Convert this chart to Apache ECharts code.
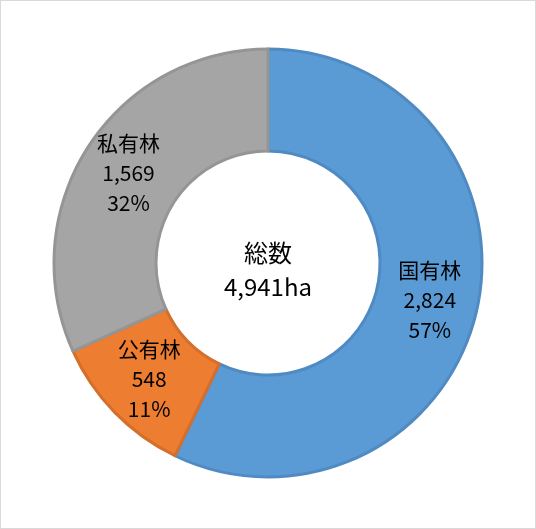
<!DOCTYPE html>
<html>
<head>
<meta charset="utf-8">
<script src="https://cdn.jsdelivr.net/npm/echarts@6/dist/echarts.min.js"></script>
<style>
html,body{margin:0;padding:0;background:#fff;}
#chart{width:536px;height:529px;box-sizing:border-box;border:1px solid #d9d9d9;}
</style>
</head>
<body>
<div id="chart"></div>
<script>
const categories = ['国有林', '公有林', '私有林'];
const values = [2824, 548, 1569];
const fillColors = ['#5B9BD5', '#ED7D31', '#A5A5A5'];
const borderColors = ['#4F8AC2', '#D46F2B', '#959595'];
const centerTitle = '総数';
const totalUnit = 'ha';

const total = values.reduce((a, b) => a + b, 0);
const fmt = n => String(n).replace(/\B(?=(\d{3})+(?!\d))/g, ',');

const chart = echarts.init(document.getElementById('chart'));
chart.setOption({
  animation: false,
  backgroundColor: '#ffffff',
  graphic: [{
    type: 'text',
    x: 267,
    y: 269,
    style: {
      text: centerTitle + '\n' + fmt(total) + totalUnit,
      font: '24px "Noto Sans CJK JP", "Noto Sans", sans-serif',
      fill: '#000',
      align: 'center',
      verticalAlign: 'middle',
      lineHeight: 34
    }
  }],
  series: [{
    type: 'pie',
    center: [267, 262],
    radius: [112, 214],
    startAngle: 90,
    clockwise: true,
    avoidLabelOverlap: false,
    data: categories.map((c, i) => ({
      name: c,
      value: values[i],
      itemStyle: { color: fillColors[i], borderColor: borderColors[i], borderWidth: 3 }
    })),
    label: {
      show: true,
      position: 'inside',
      color: '#000',
      fontSize: 21,
      lineHeight: 30,
      fontFamily: '"Noto Sans CJK JP", "Noto Sans", sans-serif',
      formatter: p => p.name + '\n' + fmt(p.value) + '\n' + Math.round(p.percent) + '%'
    },
    labelLine: { show: false },
    emphasis: { disabled: true }
  }]
});
</script>
</body>
</html>
